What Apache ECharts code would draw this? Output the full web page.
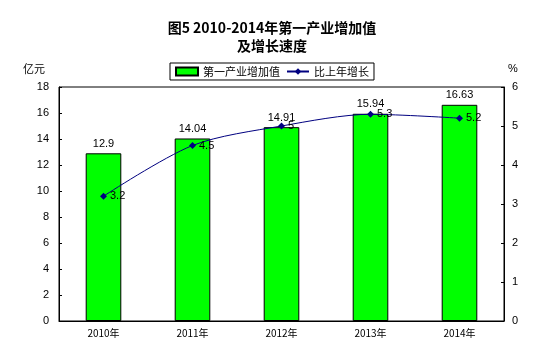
<!DOCTYPE html>
<html><head><meta charset="utf-8">
<script src="https://cdn.jsdelivr.net/npm/echarts@6/dist/echarts.min.js"></script>
<style>html,body{margin:0;padding:0;background:#fff}#c{width:544px;height:360px}</style>
</head><body><div id="c"></div>
<script>
const categories = ['2010年','2011年','2012年','2013年','2014年'];
const valueAdded = [12.9, 14.04, 14.91, 15.94, 16.63];
const growth = [3.2, 4.5, 5, 5.3, 5.2];
const leftTicks = {min:0, max:18, interval:2};
const rightTicks = {min:0, max:6, interval:1};

const font = 'Liberation Sans, Arial, sans-serif';
const chart = echarts.init(document.getElementById('c'));
chart.setOption({
  animation:false,
  backgroundColor:'#fff',
  title:{text:'图5 2010-2014年第一产业增加值\n及增长速度', left:'center', top:14,
    textStyle:{fontSize:14, fontWeight:'bold', color:'#000', lineHeight:18, fontFamily:'Noto Sans CJK SC, sans-serif'}},
  legend:{top:63, left:'center', borderColor:'#000', borderWidth:1, padding:[3,5], itemGap:6,
    itemWidth:22, itemHeight:8, textStyle:{fontSize:11, color:'#000', fontFamily:'Noto Sans CJK SC, sans-serif'},
    data:[{name:'第一产业增加值', icon:'rect'},{name:'比上年增长'}]},
  grid:{left:59, right:40, top:87, bottom:39, show:true, borderColor:'#000', borderWidth:1},
  xAxis:{type:'category', data:categories,
    axisLine:{lineStyle:{color:'#000'}}, axisTick:{inside:true, length:3, lineStyle:{color:'#000'}},
    axisLabel:{fontSize:10, color:'#000', margin:7, fontFamily:'Noto Sans CJK SC, sans-serif'}},
  yAxis:[
    {type:'value', ...leftTicks, name:'亿元', nameLocation:'end', nameGap:13,
      nameTextStyle:{fontSize:11, color:'#000', align:'right', padding:[0,14,0,0], fontFamily:'Noto Sans CJK SC, sans-serif'},
      axisLine:{show:true, lineStyle:{color:'#000'}}, axisTick:{show:true, inside:true, length:3, lineStyle:{color:'#000'}},
      splitLine:{show:false}, axisLabel:{fontSize:11, color:'#000', margin:10, fontFamily:font}},
    {type:'value', ...rightTicks, name:'%', nameLocation:'end', nameGap:13,
      nameTextStyle:{fontSize:11, color:'#000', align:'left', padding:[0,0,0,4], fontFamily:font},
      axisLine:{show:true, lineStyle:{color:'#000'}}, axisTick:{show:true, inside:true, length:3, lineStyle:{color:'#000'}},
      splitLine:{show:false}, axisLabel:{fontSize:11, color:'#000', margin:8, fontFamily:font}}
  ],
  series:[
    {name:'第一产业增加值', type:'bar', data:valueAdded, barWidth:'40%',
      itemStyle:{color:'#00ff00', borderColor:'#000', borderWidth:1},
      label:{show:true, position:'top', fontSize:11, color:'#000', distance:4, fontFamily:font}},
    {name:'比上年增长', type:'line', yAxisIndex:1, data:growth, smooth:0.3,
      symbol:'diamond', symbolSize:7, lineStyle:{color:'#000080', width:1}, itemStyle:{color:'#000080'},
      label:{show:true, position:'right', distance:3, fontSize:11, color:'#000', fontFamily:font}}
  ]
});
</script></body></html>
